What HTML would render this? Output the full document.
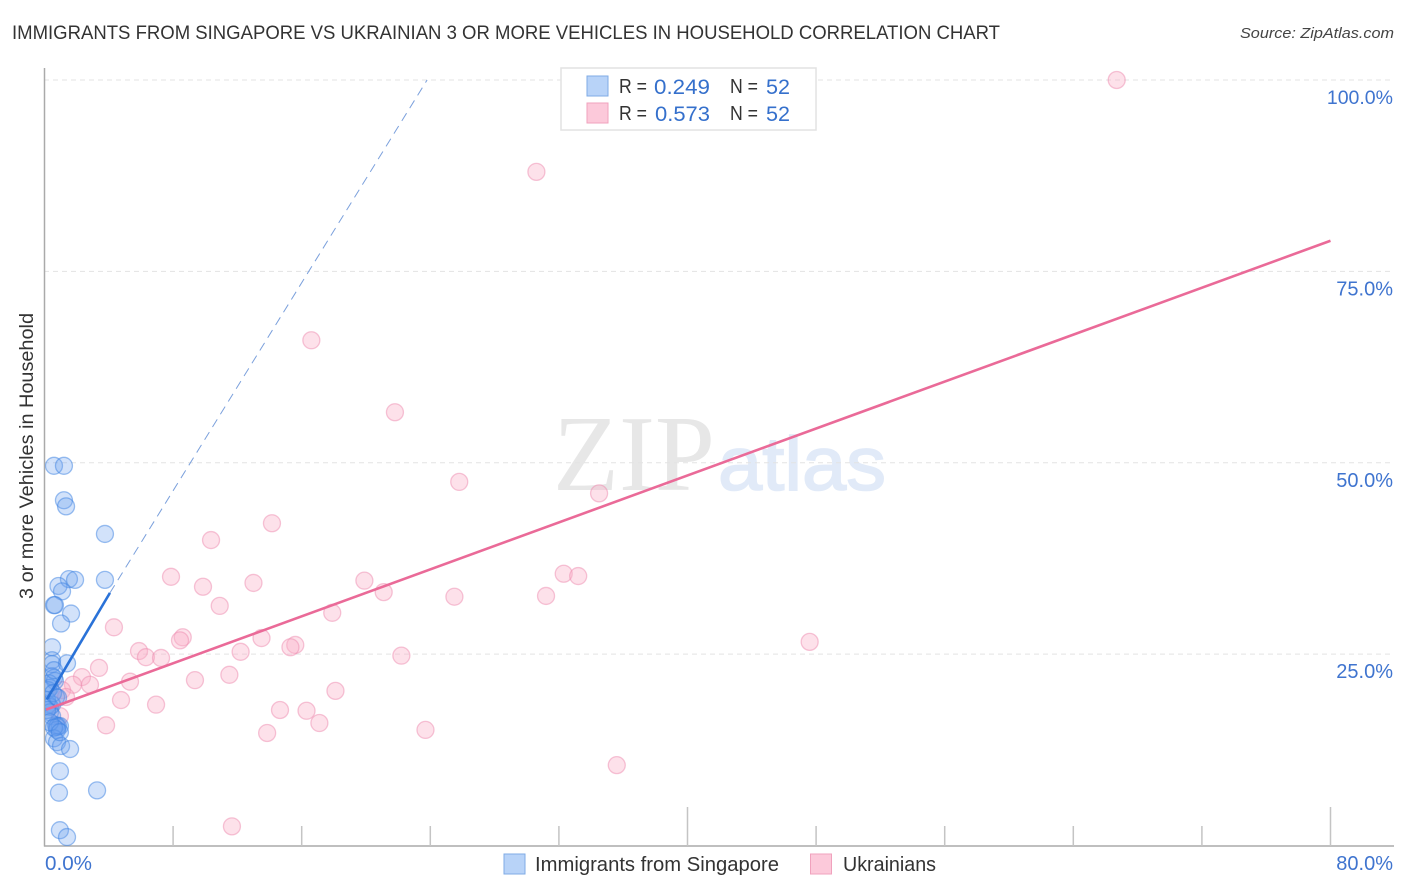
<!DOCTYPE html>
<html lang="en">
<head>
<meta charset="utf-8">
<title>Immigrants from Singapore vs Ukrainian 3 or more Vehicles in Household Correlation Chart</title>
<style>
html,body{margin:0;padding:0;background:#fff;width:1406px;height:892px;overflow:hidden}
svg{display:block;font-family:"Liberation Sans",sans-serif}
</style>
</head>
<body>
<svg id="chart" xmlns="http://www.w3.org/2000/svg" width="1406" height="892" viewBox="0 0 1406 892">
  <defs>
    <clipPath id="plot-clip"><rect x="45" y="60" width="1350" height="786"/></clipPath>
  </defs>
  <text x="12" y="39" font-size="19" fill="#333" textLength="988" lengthAdjust="spacingAndGlyphs">IMMIGRANTS FROM SINGAPORE VS UKRAINIAN 3 OR MORE VEHICLES IN HOUSEHOLD CORRELATION CHART</text>
  <text x="1394" y="38" font-size="15" font-style="italic" fill="#444" text-anchor="end" textLength="154" lengthAdjust="spacingAndGlyphs">Source: ZipAtlas.com</text>
  <g>
    <text x="553" y="490" font-family="'Liberation Serif',serif" font-size="108" fill="#e7e7e7" textLength="162" lengthAdjust="spacingAndGlyphs">ZIP</text>
    <text x="718" y="490" font-family="'Liberation Sans',sans-serif" font-size="76" fill="#e1eaf8" stroke="#e1eaf8" stroke-width="1.6" textLength="168" lengthAdjust="spacingAndGlyphs">atlas</text>
  </g>
  <g id="grid"></g>
  <g id="axes"></g>
  <g id="pink-points" clip-path="url(#plot-clip)"></g>
  <g id="blue-points" clip-path="url(#plot-clip)"></g>
  <g id="trends"></g>
  <g id="labels"></g>
  <text transform="translate(33,599) rotate(-90)" font-size="19.5" fill="#333" textLength="286" lengthAdjust="spacingAndGlyphs">3 or more Vehicles in Household</text>

  <g>
    <rect x="561" y="68" width="255" height="62" fill="#fff" stroke="#e2e2e2" stroke-width="1.5"/>
    <rect x="587" y="76" width="21" height="20" fill="#b8d3f8" stroke="#7fabe6" stroke-width="1"/>
    <rect x="587" y="103" width="21" height="20" fill="#fcc9da" stroke="#f0a2bd" stroke-width="1"/>
    <g font-size="20" fill="#333">
      <text x="619" y="93" textLength="28" lengthAdjust="spacingAndGlyphs">R =</text>
      <text x="730" y="93" textLength="28" lengthAdjust="spacingAndGlyphs">N =</text>
      <text x="619" y="120" textLength="28" lengthAdjust="spacingAndGlyphs">R =</text>
      <text x="730" y="120" textLength="28" lengthAdjust="spacingAndGlyphs">N =</text>
    </g>
    <g font-size="21" fill="#3570cc">
      <text x="654" y="94" textLength="56" lengthAdjust="spacingAndGlyphs">0.249</text>
      <text x="766" y="94" textLength="24" lengthAdjust="spacingAndGlyphs">52</text>
      <text x="655" y="121" textLength="55" lengthAdjust="spacingAndGlyphs">0.573</text>
      <text x="766" y="121" textLength="24" lengthAdjust="spacingAndGlyphs">52</text>
    </g>
  </g>

  <g>
    <g>
      <rect x="504" y="854" width="21" height="20" fill="#b8d3f8" stroke="#7fabe6" stroke-width="1"/>
      <text x="535" y="871" font-size="20" fill="#333" textLength="244" lengthAdjust="spacingAndGlyphs">Immigrants from Singapore</text>
    </g>
    <g>
      <rect x="810.5" y="854" width="21" height="20" fill="#fcc9da" stroke="#f0a2bd" stroke-width="1"/>
      <text x="843" y="871" font-size="20" fill="#333" textLength="93" lengthAdjust="spacingAndGlyphs">Ukrainians</text>
    </g>
  </g>
</svg>
<script>
const blueX = [0.59,1.21,1.21,1.34,3.76,3.76,1.52,1.90,0.87,1.09,0.59,0.65,1.65,1.03,0.47,0.47,0.47,1.40,0.47,0.59,0.65,0.34,0.22,0.72,0.47,0.22,0.34,0.16,0.34,0.47,0.72,0.84,0.78,0.96,0.78,0.59,0.78,1.03,1.59,0.96,0.90,3.27,0.96,1.40,0.28,0.59,0.16,0.53,0.84,0.34,0.59,0.96];
const blueY = [49.6,49.6,45.1,44.3,40.7,34.7,34.8,34.7,33.9,33.2,31.4,31.4,30.3,29.0,25.9,24.2,23.7,23.8,22.1,21.9,21.5,20.6,20.3,19.4,18.4,18.4,18.1,19.0,17.4,16.9,15.7,15.6,15.5,15.6,15.1,14.0,13.5,13.0,12.6,9.7,6.9,7.2,2.0,1.1,21.2,22.9,17.7,19.9,19.3,16.1,15.4,14.8];
const pinkX = [66.7,30.6,16.6,21.8,25.8,34.5,14.15,10.36,32.3,33.2,7.87,19.9,13.0,9.86,21.1,31.2,25.5,10.9,17.9,4.32,47.6,8.6,8.43,13.5,15.6,15.3,5.88,12.2,6.31,7.25,22.2,3.39,11.5,2.33,9.36,5.32,1.77,2.83,18.1,1.09,4.76,6.94,14.65,16.3,1.34,17.1,3.83,23.7,13.85,35.6,11.66,0.96];
const pinkY = [100,88,66,56.6,47.5,46,42.1,39.9,35.5,35.2,35.1,34.6,34.3,33.8,33.1,32.6,32.5,31.3,30.4,28.5,26.6,27.2,26.8,27.1,26.2,25.9,25.4,25.3,24.6,24.5,24.8,23.2,22.3,22.0,21.6,21.4,21.0,21.0,20.2,20.3,19.0,18.4,17.7,17.6,19.4,16.0,15.7,15.1,14.7,10.5,2.5,16.9];

const yTickValues = [25,50,75,100];
const yTickLabels = ["25.0%","50.0%","75.0%","100.0%"];
const xTickValues = [8,16,24,32,40,48,56,64,72,80];
const xMajorTicks = [40,80];
const xEndLabels = ["0.0%","80.0%"];

const blueTrendXs = [0.15,4.07];
const blueTrendYs = [19.1,33.0];
const blueDashXs = [4.07,23.8];
const blueDashYs = [33.0,100];
const pinkTrendXs = [0.1,80];
const pinkTrendYs = [17.75,79.0];

const NS = 'http://www.w3.org/2000/svg';
function sx(v){ return 44.5 + v * 16.075; }
function sy(v){ return 845.5 - v * 7.655; }
function make(tag, attrs){
  const el = document.createElementNS(NS, tag);
  for (const k in attrs) el.setAttribute(k, attrs[k]);
  return el;
}

const grid = document.getElementById('grid');
yTickValues.forEach(function(v){
  const g = make('line', {x1:44, x2:1394, y1:sy(v), y2:sy(v), stroke:'#e3e3e3', 'stroke-width':1, 'stroke-dasharray':'5 4'});
  
  
  grid.appendChild(g);
});

const axes = document.getElementById('axes');
const yAxis = make('line', {x1:44.5, x2:44.5, y1:68, y2:846.5, stroke:'#aaaaaa', 'stroke-width':1.5});


axes.appendChild(yAxis);
const xAxis = make('line', {x1:44, x2:1394, y1:846, y2:846, stroke:'#aaaaaa', 'stroke-width':1.5});


axes.appendChild(xAxis);
xTickValues.forEach(function(v){
  const major = xMajorTicks.indexOf(v) >= 0;
  const t = make('line', {x1:sx(v), x2:sx(v), y1:major ? 807 : 826, y2:846, stroke:'#c4c4c4', 'stroke-width':1.5});
  
  
  axes.appendChild(t);
});

const labels = document.getElementById('labels');
yTickValues.forEach(function(v, i){
  const t = make('text', {x:1393, y:sy(v) + 24, 'font-size':yTickLabels[i].length > 5 ? 19.5 : 20, fill:'#3f74cf', 'text-anchor':'end'});
  t.textContent = yTickLabels[i];
  
  
  labels.appendChild(t);
});
const x0Label = make('text', {x:45, y:870, 'font-size':20, fill:'#3f74cf', textLength:47, lengthAdjust:'spacingAndGlyphs'});
x0Label.textContent = xEndLabels[0];


labels.appendChild(x0Label);
const x1Label = make('text', {x:1393, y:870, 'font-size':20, fill:'#3f74cf', 'text-anchor':'end'});
x1Label.textContent = xEndLabels[1];


labels.appendChild(x1Label);

const pinkLayer = document.getElementById('pink-points');
pinkX.forEach(function(v, i){
  const c = make('circle', {cx:sx(v), cy:sy(pinkY[i]), r:8.5, fill:'rgba(250,175,200,0.38)', stroke:'rgba(238,140,175,0.5)', 'stroke-width':1.3});
  
  
  pinkLayer.appendChild(c);
});
const blueLayer = document.getElementById('blue-points');
blueX.forEach(function(v, i){
  const c = make('circle', {cx:sx(v), cy:sy(blueY[i]), r:8.5, fill:'rgba(105,160,240,0.3)', stroke:'rgba(60,130,225,0.5)', 'stroke-width':1.3});
  
  
  blueLayer.appendChild(c);
});

const trends = document.getElementById('trends');
const blueDash = make('line', {x1:sx(blueDashXs[0]), y1:sy(blueDashYs[0]), x2:sx(blueDashXs[1]), y2:sy(blueDashYs[1]), stroke:'#7ba0dc', 'stroke-width':1, 'stroke-dasharray':'9 6'});


trends.appendChild(blueDash);
const blueSolid = make('line', {x1:sx(blueTrendXs[0]), y1:sy(blueTrendYs[0]), x2:sx(blueTrendXs[1]), y2:sy(blueTrendYs[1]), stroke:'#2a72d8', 'stroke-width':2.6});


trends.appendChild(blueSolid);
const pinkLine = make('line', {x1:sx(pinkTrendXs[0]), y1:sy(pinkTrendYs[0]), x2:sx(pinkTrendXs[1]), y2:sy(pinkTrendYs[1]), stroke:'#ea6a98', 'stroke-width':2.6});


trends.appendChild(pinkLine);
</script>
</body>
</html>
